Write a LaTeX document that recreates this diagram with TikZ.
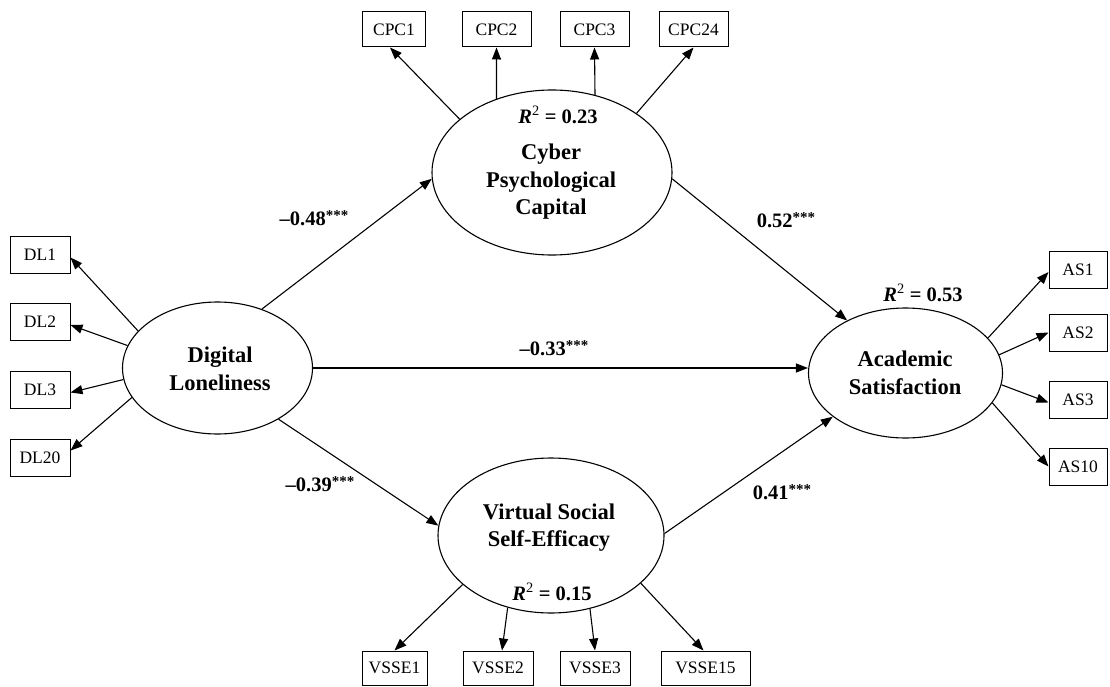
\documentclass[tikz,border=0pt]{standalone}
\usepackage{fontspec}
\setmainfont{Liberation Serif}
\usetikzlibrary{arrows.meta,shapes.geometric}
\tikzset{
  latent/.style={ellipse,draw,line width=1.1pt,inner sep=0pt},
  ind/.style={rectangle,draw,line width=1pt,inner sep=0pt,font=\fontsize{17.5}{20}\selectfont},
  lattext/.style={align=center,inner sep=0pt,font=\fontsize{22.5}{27.5}\selectfont\bfseries},
  coef/.style={inner sep=0pt,font=\fontsize{20.5}{22}\selectfont\bfseries},
  rsq/.style={inner sep=0pt,font=\fontsize{20.5}{22}\selectfont\bfseries},
  arr/.style={line width=1.1pt,-{Triangle[length=12pt,width=9pt]}},
}
\newcommand{\rsqtext}[1]{\textit{R}\textsuperscript{\mdseries 2} = #1}
\newcommand{\stars}{\raisebox{0.5ex}{\fontsize{15}{15}\selectfont ***}}
\begin{document}
\begin{tikzpicture}[x=1pt,y=-1pt]
\useasboundingbox[fill=white] (0,0) rectangle (1110,687);
% latent variables
\node[latent,minimum width=190pt,minimum height=132pt] (dl) at (217.5,368) {};
\node[latent,minimum width=240pt,minimum height=165pt] (cpc) at (552,172.5) {};
\node[latent,minimum width=194pt,minimum height=130pt] (as) at (905.5,373) {};
\node[latent,minimum width=226pt,minimum height=155pt] (vsse) at (551,535.5) {};
\node[lattext] (dlt) at (220,369) {Digital\\Loneliness};
\node[lattext] (cpct) at (551,182) {Cyber\\Psychological\\Capital};
\node[lattext] (ast) at (905,373) {Academic\\Satisfaction};
\node[lattext] (vsset) at (549,527.5) {Virtual Social\\Self-Efficacy};
% R squared
\node[rsq] (r23) at (558,115) {\rsqtext{0.23}};
\node[rsq] (r53) at (923,293) {\rsqtext{0.53}};
\node[rsq] (r15) at (552,592) {\rsqtext{0.15}};
% indicators
\node[ind,minimum width=63pt,minimum height=35pt] (cpc1) at (394,29.5) {CPC1};
\node[ind,minimum width=69pt,minimum height=35pt] (cpc2) at (496.5,29.5) {CPC2};
\node[ind,minimum width=69pt,minimum height=35pt] (cpc3) at (594.5,29.5) {CPC3};
\node[ind,minimum width=69pt,minimum height=35pt] (cpc24) at (693.5,29.5) {CPC24};
\node[ind,minimum width=60pt,minimum height=37pt] (dl1) at (40,254.5) {DL1};
\node[ind,minimum width=60pt,minimum height=37pt] (dl2) at (40,322) {DL2};
\node[ind,minimum width=60pt,minimum height=37pt] (dl3) at (40,389.5) {DL3};
\node[ind,minimum width=60pt,minimum height=37pt] (dl20) at (40,457.5) {DL20};
\node[ind,minimum width=58pt,minimum height=37pt] (as1) at (1078,270) {AS1};
\node[ind,minimum width=58pt,minimum height=37pt] (as2) at (1078,332.5) {AS2};
\node[ind,minimum width=58pt,minimum height=37pt] (as3) at (1078,399.5) {AS3};
\node[ind,minimum width=58pt,minimum height=37pt] (as10) at (1078,466.5) {AS10};
\node[ind,minimum width=65pt,minimum height=34pt] (vsse1) at (394.5,668) {VSSE1};
\node[ind,minimum width=70pt,minimum height=34pt] (vsse2) at (498,668) {VSSE2};
\node[ind,minimum width=70pt,minimum height=34pt] (vsse3) at (595,668) {VSSE3};
\node[ind,minimum width=89pt,minimum height=34pt] (vsse15) at (705.5,668) {VSSE15};
% loadings
\draw[arr] (cpc.150.8) -- ([xshift=-4pt]cpc1.south);
\draw[arr] (cpc.127) -- (cpc2.south);
\draw[arr] (cpc.61) -- (cpc3.south);
\draw[arr] (cpc.35.5) -- (cpc24.south);
\draw[arr] (dl.155.6) -- ([yshift=-3pt]dl1.east);
\draw[arr] (dl.166.8) -- ([yshift=-3pt]dl2.east);
\draw[arr] (dl.187.4) -- ([yshift=-3pt]dl3.east);
\draw[arr] (dl.199.3) -- ([yshift=7pt]dl20.east);
\draw[arr] (as.23) -- ([yshift=-2pt]as1.west);
\draw[arr] (as.11) -- (as2.west);
\draw[arr] (as.353) -- ([yshift=-3pt]as3.west);
\draw[arr] (as.341.7) -- (as10.west);
\draw[arr] (vsse.209.6) -- (vsse1.north);
\draw[arr] (vsse.239.5) -- ([xshift=4pt]vsse2.north);
\draw[arr] (vsse.298.7) -- (vsse3.north);
\draw[arr] (vsse.332.7) -- ([xshift=-2pt]vsse15.north);
% structural paths
\draw[arr] (dl.53) -- (cpc.183.6);
\draw[arr] (dl.east) -- (dl.east -| as.west);
\draw[arr] (dl.320.7) -- (vsse.175);
\draw[arr] (cpc.357.3) -- (as.138.8);
\draw[arr] (vsse.1.5) -- (as.211.5);
% coefficients
\node[coef] (c1) at (314,218) {–0.48\stars};
\node[coef] (c2) at (786,220) {0.52\stars};
\node[coef] (c3) at (554,348) {–0.33\stars};
\node[coef] (c4) at (320,484) {–0.39\stars};
\node[coef] (c5) at (782,492) {0.41\stars};
\end{tikzpicture}
\end{document}
